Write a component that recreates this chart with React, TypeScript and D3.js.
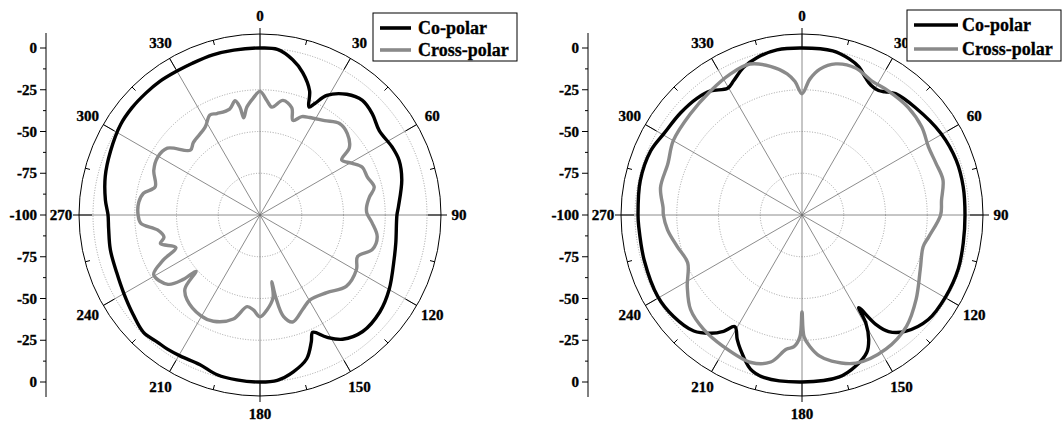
import React from 'react';
import * as d3 from 'd3';

const angleTicks = [0, 30, 60, 90, 120, 150, 180, 210, 240, 270, 300, 330];
const radialTicks = [0, -25, -50, -75, -100];
const radialMinor = [-12.5, -37.5, -62.5, -87.5];
const gridRings = [-75, -50, -25, 0];
const seriesNames = ['Co-polar', 'Cross-polar'];

// [angle in degrees, level in dB]
const leftCoPolar: [number, number][] = [
  [0, 0], [6, -0.3], [11.9, -5], [16.7, -11], [21.8, -20], [24.4, -29], [26.2, -25.6], [29.2, -18],
  [35.7, -11], [41.8, -8], [48, -9.5], [54.7, -12.5], [62.9, -11], [68.5, -10.5], [76, -12.5],
  [86.7, -17], [90, -18], [101.5, -17], [108, -15.5], [120, -10.7], [129, -7.7], [138.6, -7],
  [146.4, -10.7], [151.4, -16.7], [155.8, -23], [158, -18], [162, -9.5], [168, -4], [174, -0.5],
  [180, 0], [188, -0.3], [195, -1], [202, -3.5], [209.4, -3], [214.6, -2.4], [218.8, -2.2],
  [224.8, -1], [232, -3.5], [240.4, -6], [248, -7.5], [256.9, -8], [265, -9], [270, -9],
  [275.5, -7], [284, -4.5], [293, -2.7], [303, -0.5], [310, 0], [317, 0], [323, 0], [330, -0.5],
  [336, -0.5], [343.6, 0], [351, 0]
];

const leftCrossPolar: [number, number][] = [
  [0, -26], [3.5, -31.5], [6.3, -35], [11.3, -30], [16.5, -33], [19.2, -40], [23, -36],
  [27, -34.5], [34.4, -31.5], [41, -27.4], [47, -28.5], [53, -33], [56, -41], [60.5, -37],
  [65, -32.4], [70.6, -31.8], [76.3, -29.6], [80.7, -33.6], [85.7, -36], [89, -36], [94, -32.7],
  [100.5, -28.6], [107, -29.6], [113, -36.5], [119.6, -33.6], [129.6, -33], [139.3, -38.7],
  [149.5, -41], [155.6, -38], [163, -33], [167, -37.7], [169.2, -50], [170, -59.5], [171, -50],
  [175.8, -43], [180, -39], [184, -43], [188, -44.6], [194.4, -35.7], [203.7, -30.5],
  [210.5, -30], [220.7, -33], [225.5, -37], [228.7, -49], [230, -40], [233, -31], [240.7, -27],
  [245, -36], [248.8, -46], [254, -38], [257, -41], [261.7, -38], [266, -28.5], [270, -27],
  [276, -27], [280.6, -29], [285, -35], [292.8, -31], [299.4, -29.6], [305.8, -31.6], [313, -43],
  [317.5, -41], [328, -38], [333.4, -33], [337, -34], [344, -34], [347.7, -30], [349.5, -34.5],
  [350.5, -41], [353, -35], [356.6, -30]
];

const rightCoPolar: [number, number][] = [
  [0, 0], [10.6, 0], [17, -2.4], [21, -5], [24.9, -9.5], [28, -12], [31.6, -12.5], [34, -11],
  [37.6, -8.3], [46.5, -6.5], [59.6, -3.5], [70.5, -2], [80, -2], [90, -2.4], [99.8, -2],
  [109, -1], [119.7, -1], [129.6, -1.8], [138.4, -6.8], [143.4, -13], [146, -21], [148.5, -35],
  [149.4, -25], [151.8, -15.5], [154.8, -9], [160.4, -4], [167, -0.5], [180, 0], [193, 0],
  [198.5, -2.7], [204.7, -11.6], [207.5, -16], [211, -22], [214, -16], [217.7, -10.5], [223, -5],
  [231.7, -2], [240.5, -0.8], [254, -1.7], [265.8, -2], [270, -1.8], [282, -1], [293, -1.6],
  [300.5, -4], [310, -5], [318, -6], [323.6, -7.7], [329.6, -12], [333, -9.8], [338.3, -5],
  [344, -2], [351.4, 0]
];

const rightCrossPolar: [number, number][] = [
  [0, -27.4], [3.3, -18.5], [7, -12], [12.6, -7.3], [20, -6.3], [27.4, -9.5], [34.8, -9.5],
  [44.7, -9.5], [53.7, -11], [61.8, -14], [68.8, -14], [76, -13], [84, -16], [90, -17],
  [99.8, -23], [104.7, -25], [114.8, -22], [126.5, -15], [136.8, -8.6], [148, -5.3], [160, -5.6],
  [168.5, -10.7], [173, -15], [176.5, -21], [179, -27], [180, -42], [181, -27], [183.5, -21],
  [186.7, -19], [192, -10], [199, -6.6], [211, -8.3], [220.7, -9.7], [229.7, -12.5], [238, -19],
  [247.3, -25.8], [255.6, -23], [263.7, -19], [270, -17], [273, -16.7], [281, -13.7], [291, -14],
  [300, -11], [312, -9.8], [323.6, -7.7], [333, -5.3], [341, -4.4], [348, -9], [354, -15],
  [357, -20]
];

const FONT = '"Liberation Serif", "Times New Roman", Times, serif';
const CO_COLOR = '#000000';
const CROSS_COLOR = '#8a8a8a';

type Pt = [number, number];

interface LegendSpec { x: number; y: number; w: number; h: number; lx1: number; lx2: number; tx: number; rows: number[]; }

const labelStyle: React.CSSProperties = { fontFamily: FONT, fontWeight: 700 };

function PolarChart({ cx, cy, co, cross, legend }: { cx: number; cy: number; co: Pt[]; cross: Pt[]; legend: LegendSpec }) {
  const r = d3.scaleLinear().domain([-100, 0]).range([0, 167]);
  const outerR = 181;
  const toRad = (a: number) => (a * Math.PI) / 180;
  const line = d3
    .lineRadial<Pt>()
    .angle((d) => toRad(d[0]))
    .radius((d) => r(d[1]))
    .curve(d3.curveCatmullRomClosed.alpha(0.5));
  const px = (a: number, rr: number) => cx + rr * Math.sin(toRad(a));
  const py = (a: number, rr: number) => cy - rr * Math.cos(toRad(a));
  const axisX = cx - 214;
  const minorAngles = d3.range(15, 360, 30);

  return (
    <g>
      {gridRings.map((v) => (
        <circle key={'ring' + v} cx={cx} cy={cy} r={r(v)} fill="none" stroke="#8c8c8c" strokeWidth={0.8} strokeDasharray="1,1.6" />
      ))}
      {angleTicks.map((a) => (
        <line key={'spoke' + a} x1={cx} y1={cy} x2={px(a, outerR)} y2={py(a, outerR)} stroke="#6e6e6e" strokeWidth={0.8} />
      ))}
      <circle cx={cx} cy={cy} r={outerR} fill="none" stroke="#000" strokeWidth={1} />
      {angleTicks.map((a) => (
        <line key={'mt' + a} x1={px(a, outerR)} y1={py(a, outerR)} x2={px(a, outerR - 13)} y2={py(a, outerR - 13)} stroke="#000" strokeWidth={1} />
      ))}
      {[0, 90, 180, 270].map((a) => (
        <line key={'ot' + a} x1={px(a, outerR)} y1={py(a, outerR)} x2={px(a, outerR + 6)} y2={py(a, outerR + 6)} stroke="#000" strokeWidth={1} />
      ))}
      {minorAngles.map((a) => (
        <line key={'mn' + a} x1={px(a, outerR)} y1={py(a, outerR)} x2={px(a, outerR - 5)} y2={py(a, outerR - 5)} stroke="#000" strokeWidth={1} />
      ))}
      {angleTicks.map((a) => (
        <text key={'al' + a} x={px(a, 199)} y={py(a, 199)} textAnchor="middle" dominantBaseline="central" style={labelStyle} fontSize={15} stroke="#000" strokeWidth={0.35}>
          {a}
        </text>
      ))}
      {/* radial axis at left */}
      <line x1={axisX} y1={cy - outerR - 1} x2={axisX} y2={cy + outerR + 1} stroke="#000" strokeWidth={1} />
      {radialTicks.map((v) =>
        (v === -100 ? [1] : [-1, 1]).map((s) => (
          <g key={'rt' + v + s}>
            <line x1={axisX - 6} x2={axisX} y1={cy + s * r(v)} y2={cy + s * r(v)} stroke="#000" strokeWidth={1} />
            <text x={axisX - 9} y={cy + s * r(v)} textAnchor="end" dominantBaseline="central" style={labelStyle} fontSize={15} stroke="#000" strokeWidth={0.35}>
              {v}
            </text>
          </g>
        ))
      )}
      {radialMinor.map((v) =>
        [-1, 1].map((s) => (
          <line key={'rm' + v + s} x1={axisX - 3} x2={axisX} y1={cy + s * r(v)} y2={cy + s * r(v)} stroke="#000" strokeWidth={1} />
        ))
      )}
      <path d={line(co) || ''} transform={`translate(${cx},${cy})`} fill="none" stroke={CO_COLOR} strokeWidth={3.4} strokeLinejoin="round" />
      <path d={line(cross) || ''} transform={`translate(${cx},${cy})`} fill="none" stroke={CROSS_COLOR} strokeWidth={3.4} strokeLinejoin="round" />
      {/* legend */}
      <rect x={legend.x} y={legend.y} width={legend.w} height={legend.h} fill="#fff" stroke="#000" strokeWidth={1} />
      {seriesNames.map((name, i) => (
        <g key={name}>
          <line x1={legend.lx1} x2={legend.lx2} y1={legend.rows[i]} y2={legend.rows[i]} stroke={i === 0 ? CO_COLOR : CROSS_COLOR} strokeWidth={3.6} />
          <text x={legend.tx} y={legend.rows[i] + 6} style={labelStyle} fontSize={18} stroke="#000" strokeWidth={0.3}>
            {name}
          </text>
        </g>
      ))}
    </g>
  );
}

export default function App() {
  return (
    <div style={{ position: 'absolute', left: 0, top: 0 }}>
      <svg width={1062} height={427} style={{ display: 'block', background: '#fff' }}>
        <PolarChart
          cx={260}
          cy={215}
          co={leftCoPolar}
          cross={leftCrossPolar}
          legend={{ x: 373, y: 13, w: 144, h: 48, lx1: 380, lx2: 411, tx: 418, rows: [28, 50] }}
        />
        <PolarChart
          cx={802}
          cy={215}
          co={rightCoPolar}
          cross={rightCrossPolar}
          legend={{ x: 907, y: 10, w: 154, h: 51, lx1: 914, lx2: 958, tx: 962, rows: [25, 49] }}
        />
      </svg>
    </div>
  );
}
